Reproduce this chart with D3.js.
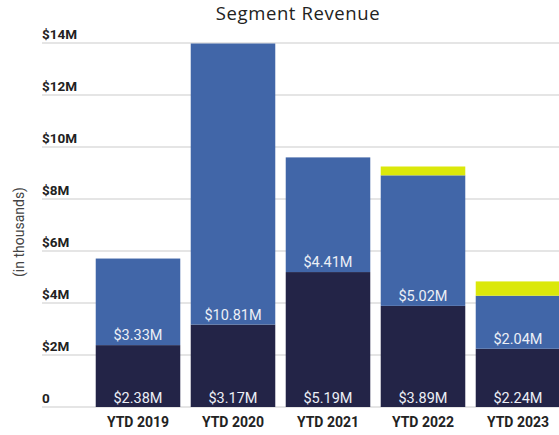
<!DOCTYPE html>
<html>
<head>
<meta charset="utf-8">
<script src="https://cdn.jsdelivr.net/npm/d3@7"></script>
<style>
  html, body { margin: 0; padding: 0; background: #fff; }
  svg { display: block; }
</style>
</head>
<body>
<svg id="chart" width="559" height="435"></svg>
<script>
// Segment revenue by year-to-date period, in $M
const categories = ["YTD 2019", "YTD 2020", "YTD 2021", "YTD 2022", "YTD 2023"];
const baseSegment = [2.38, 3.17, 5.19, 3.89, 2.24];
const growthSegment = [3.33, 10.81, 4.41, 5.02, 2.04];
const newSegment = [0, 0, 0, 0.34, 0.55];
const yTicks = [0, 2, 4, 6, 8, 10, 12, 14];
const yTickLabels = ["0", "$2M", "$4M", "$6M", "$8M", "$10M", "$12M", "$14M"];

const seriesKeys = ["base", "growth", "new"];
const colors = { base: "#232447", growth: "#4166a8", new: "#dbe80a" };

const rows = categories.map((c, i) => ({
  cat: c, base: baseSegment[i], growth: growthSegment[i], new: newSegment[i]
}));

const svg = d3.select("#chart");
const W = 559, H = 435;

const y = d3.scaleLinear().domain([0, 14]).range([407, 43]);
const x = d3.scaleBand().domain(categories).range([90.5, 565.5]).paddingInner(0.11).paddingOuter(0.055);

// gridlines
svg.append("g").selectAll("line").data(yTicks).join("line")
  .attr("x1", 42).attr("x2", W)
  .attr("y1", d => y(d)).attr("y2", d => y(d))
  .attr("stroke", "#dcdcdc").attr("stroke-width", 1.5);

// tick labels sit above each gridline
svg.append("g").selectAll("text").data(yTicks).join("text")
  .attr("x", 42).attr("y", d => y(d) - 4)
  .attr("font-family", "Roboto, sans-serif").attr("font-weight", 700)
  .attr("font-size", 13.5).attr("fill", "#222")
  .text((d, i) => yTickLabels[i]);

// stacked bars
const stack = d3.stack().keys(seriesKeys)(rows);
svg.append("g").selectAll("g").data(stack).join("g")
  .attr("fill", d => colors[d.key])
  .selectAll("rect").data(d => d).join("rect")
  .attr("x", d => x(d.data.cat))
  .attr("width", x.bandwidth())
  .attr("y", d => y(d[1]))
  .attr("height", d => y(d[0]) - y(d[1]));

const fmt = v => "$" + v.toFixed(2) + "M";

// value labels: base label at bar bottom, growth label just above base segment
const labels = svg.append("g")
  .attr("font-family", "Roboto, sans-serif").attr("font-size", 14.5)
  .attr("fill", "#eceff6").attr("text-anchor", "middle");
labels.selectAll("text.base").data(rows).join("text").attr("class", "base")
  .attr("x", d => x(d.cat) + x.bandwidth() / 2)
  .attr("y", y(0) - 4)
  .text(d => fmt(d.base));
labels.selectAll("text.growth").data(rows).join("text").attr("class", "growth")
  .attr("x", d => x(d.cat) + x.bandwidth() / 2)
  .attr("y", d => y(d.base) - 5)
  .text(d => fmt(d.growth));

// x axis labels
svg.append("g").selectAll("text").data(categories).join("text")
  .attr("x", d => x(d) + x.bandwidth() / 2).attr("y", 427)
  .attr("text-anchor", "middle")
  .attr("font-family", "Roboto, sans-serif").attr("font-weight", 700)
  .attr("font-size", 14).attr("fill", "#222")
  .text(d => d);

// axis title
svg.append("text")
  .attr("transform", "translate(24,232) rotate(-90)")
  .attr("text-anchor", "middle")
  .attr("font-family", "Roboto, sans-serif").attr("font-size", 14).attr("fill", "#444")
  .text("(in thousands)");

// chart title
svg.append("text")
  .attr("x", 298).attr("y", 20).attr("text-anchor", "middle")
  .attr("font-family", "'Open Sans', sans-serif").attr("font-size", 18.5)
  .attr("letter-spacing", 0.6).attr("fill", "#222")
  .text("Segment Revenue");
</script>
</body>
</html>
